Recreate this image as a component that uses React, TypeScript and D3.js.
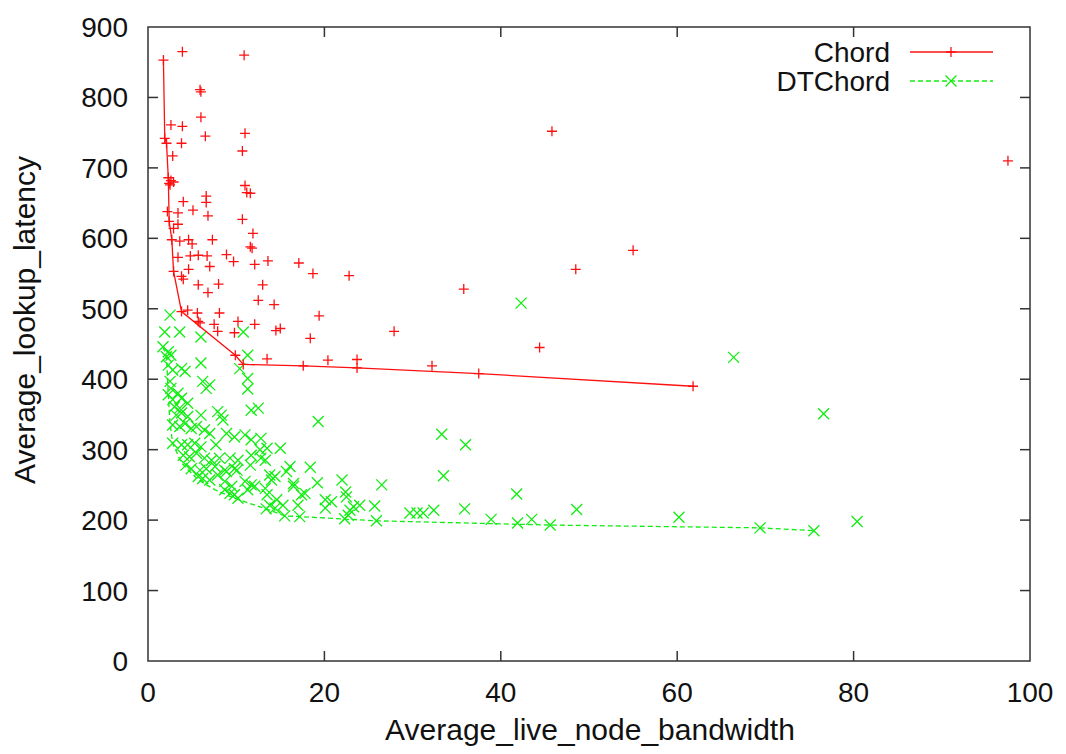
import React, { useEffect, useRef } from "react";
import * as d3 from "d3";

// Chord scatter (bandwidth, latency)
const chordX = [1.75, 3.9, 10.9, 5.9, 6.0, 6.0, 2.6, 3.9, 11.0, 6.5, 1.9, 2.1, 3.8, 10.7, 2.8, 2.3, 2.6, 2.4, 2.9, 2.5, 11.0, 11.2, 11.6, 6.6, 6.6, 4.0, 5.1, 2.2, 3.4, 6.8, 10.7, 2.4, 3.4, 2.9, 11.9, 2.7, 3.6, 4.6, 5.0, 7.3, 11.6, 11.8, 3.4, 4.8, 5.7, 6.7, 8.9, 9.7, 12.1, 13.6, 17.1, 7.0, 4.6, 2.9, 18.7, 22.8, 3.8, 4.0, 5.7, 8.0, 13.0, 6.8, 12.5, 14.3, 19.4, 3.8, 4.5, 5.6, 8.1, 5.9, 7.5, 7.9, 10.2, 12.1, 9.8, 14.5, 15.0, 18.4, 27.9, 9.9, 13.5, 10.8, 17.6, 20.4, 23.7, 23.7, 32.2, 5.7, 37.5, 44.4, 35.8, 48.5, 55.0, 45.8, 97.5, 61.8];
const chordY = [853, 865, 860, 811, 808, 772, 761, 759, 749, 745, 742, 735, 735, 724, 717, 686, 682, 678, 680, 676, 675, 665, 664, 660, 651, 652, 640, 638, 636, 632, 627, 624, 620, 614, 607, 598, 596, 598, 592, 598, 588, 586, 573, 575, 576, 575, 577, 567, 563, 568, 565, 560, 556, 553, 550, 547, 546, 542, 534, 535, 534, 523, 512, 506, 490, 496, 498, 494, 494, 480, 478, 468, 482, 478, 466, 469, 472, 458, 468, 434, 429, 421, 419, 427, 428, 416, 419, 482, 408, 445, 528, 556, 583, 752, 710, 390];

// Chord frontier line
const chordLineX = [1.75, 1.9, 2.1, 2.3, 2.4, 2.7, 2.9, 3.8, 9.9, 10.8, 17.6, 23.7, 37.5, 61.8];
const chordLineY = [853, 742, 735, 686, 624, 598, 553, 496, 434, 421, 419, 416, 408, 390];

// DTChord scatter
const dtX = [2.5, 1.9, 3.6, 6.0, 10.8, 1.7, 2.3, 2.6, 2.1, 11.3, 6.0, 2.3, 2.8, 3.8, 4.2, 10.4, 11.3, 11.3, 6.2, 6.6, 7.0, 2.5, 2.6, 3.4, 2.8, 2.3, 3.8, 4.5, 3.6, 3.0, 7.9, 8.3, 11.7, 12.5, 6.0,
  3.2, 3.8, 4.5, 8.5, 2.8, 3.6, 4.2, 4.9, 5.5, 6.4, 7.0, 8.9, 9.8, 11.0, 11.7, 12.8, 2.8, 3.8, 4.5, 5.3, 6.0, 7.7, 4.0, 4.7, 5.5, 6.4, 7.2, 8.1, 9.3, 10.2, 11.7, 12.8, 4.3, 4.9, 5.9, 6.6, 7.6, 8.7, 9.8, 5.7, 6.2, 7.0, 7.9, 8.7, 11.0, 11.7, 8.7, 9.3, 9.8, 10.2, 11.3, 12.1, 13.4,
  19.3, 12.7, 13.5, 15.0, 13.3, 11.6, 16.1, 18.4, 15.7, 14.4, 14.0, 13.8, 16.5, 19.2, 22.0, 22.4, 26.5, 16.5, 13.3, 13.5, 17.4, 17.8, 20.8, 20.1, 13.8, 14.4, 17.0, 23.3, 24.0, 22.9, 25.7, 15.5, 17.2, 22.3, 22.7, 25.9, 14.6, 15.3, 20.1, 22.5, 29.7, 30.5, 31.2, 32.4, 35.9, 38.9, 41.9, 43.5, 45.6, 48.6, 60.2, 69.4, 75.5, 80.4, 33.3, 36.0, 33.5, 41.8, 42.3, 66.4, 76.6, 9.5, 8.9, 10.1];
const dtY = [491, 467, 467, 460, 467, 446, 439, 434, 432, 434, 423, 420, 413, 415, 411, 415, 401, 386, 397, 387, 392, 397, 387, 380, 371, 378, 373, 366, 359, 361, 354, 349, 356, 359, 349,
  349, 352, 347, 342, 335, 333, 337, 330, 333, 328, 323, 323, 318, 321, 314, 316, 309, 307, 307, 309, 304, 307, 292, 290, 295, 288, 285, 288, 288, 285, 292, 288, 278, 273, 271, 273, 276, 271, 273, 262, 259, 257, 264, 255, 255, 250, 243, 238, 236, 231, 243, 248, 216,
  340, 300, 302, 302, 285, 278, 276, 275, 269, 262, 257, 264, 252, 253, 257, 240, 250, 248, 245, 236, 236, 238, 226, 217, 221, 217, 221, 219, 221, 214, 220, 206, 205, 202, 207, 199, 229, 221, 229, 233, 210, 210, 210, 214, 216, 201, 196, 201, 193, 215, 204, 189, 185, 198, 322, 307, 263, 237, 508, 431, 351, 248, 269, 271];

// DTChord frontier line
const dtLineX = [1.7, 2.1, 2.3, 2.5, 2.8, 3.8, 5.7, 7.6, 9.8, 13.4, 15.5, 17.2, 25.9, 45.6, 69.4, 75.5];
const dtLineY = [446, 432, 378, 337, 309, 281, 257, 243, 231, 216, 206, 205, 199, 193, 189, 185];

const xTicks = [0, 20, 40, 60, 80, 100];
const yTicks = [0, 100, 200, 300, 400, 500, 600, 700, 800, 900];

const RED = "#ff1010";
const GREEN = "#10ee10";
const FONT = "'Liberation Sans', Arial, sans-serif";

function App() {
  const ref = useRef<SVGSVGElement>(null);

  useEffect(() => {
    const width = 1066;
    const height = 754;
    const margin = { top: 27, right: 36, bottom: 93, left: 148 };
    const svg = d3.select(ref.current);
    svg.selectAll("*").remove();

    const x = d3.scaleLinear().domain([0, 100]).range([margin.left, width - margin.right]);
    const y = d3.scaleLinear().domain([0, 900]).range([height - margin.bottom, margin.top]);

    const x0 = x(0), x1 = x(100), y0 = y(0), y1 = y(900);

    // frame
    svg.append("rect")
      .attr("x", x0).attr("y", y1)
      .attr("width", x1 - x0).attr("height", y0 - y1)
      .attr("fill", "none").attr("stroke", "#333").attr("stroke-width", 1.5);

    const tl = 10;
    // mirrored inward ticks
    const tg = svg.append("g").attr("stroke", "#333").attr("stroke-width", 1.5);
    xTicks.slice(1, -1).forEach((t) => {
      tg.append("line").attr("x1", x(t)).attr("x2", x(t)).attr("y1", y0).attr("y2", y0 - tl);
      tg.append("line").attr("x1", x(t)).attr("x2", x(t)).attr("y1", y1).attr("y2", y1 + tl);
    });
    yTicks.slice(1, -1).forEach((t) => {
      tg.append("line").attr("x1", x0).attr("x2", x0 + tl).attr("y1", y(t)).attr("y2", y(t));
      tg.append("line").attr("x1", x1).attr("x2", x1 - tl).attr("y1", y(t)).attr("y2", y(t));
    });

    // tick labels
    svg.append("g").selectAll("text").data(xTicks).enter().append("text")
      .attr("x", (d) => x(d)).attr("y", y0 + 41)
      .attr("text-anchor", "middle")
      .attr("font-family", FONT).attr("font-size", 28).attr("fill", "#111")
      .text((d) => d);
    svg.append("g").selectAll("text").data(yTicks).enter().append("text")
      .attr("x", x0 - 20).attr("y", (d) => y(d) + 10)
      .attr("text-anchor", "end")
      .attr("font-family", FONT).attr("font-size", 28).attr("fill", "#111")
      .text((d) => d);

    // axis titles
    svg.append("text")
      .attr("x", 590).attr("y", 740)
      .attr("text-anchor", "middle")
      .attr("font-family", FONT).attr("font-size", 30).attr("fill", "#111")
      .text("Average_live_node_bandwidth");
    svg.append("text")
      .attr("transform", "translate(35,320) rotate(-90)")
      .attr("text-anchor", "middle")
      .attr("font-family", FONT).attr("font-size", 30).attr("fill", "#111")
      .text("Average_lookup_latency");

    const plus = (g: any, cx: number, cy: number, color: string) => {
      const s = 5;
      g.append("path")
        .attr("d", `M${cx - s},${cy}H${cx + s}M${cx},${cy - s}V${cy + s}`)
        .attr("stroke", color).attr("stroke-width", 1.3).attr("fill", "none");
    };
    const cross = (g: any, cx: number, cy: number, color: string) => {
      const s = 5.5;
      g.append("path")
        .attr("d", `M${cx - s},${cy - s}L${cx + s},${cy + s}M${cx - s},${cy + s}L${cx + s},${cy - s}`)
        .attr("stroke", color).attr("stroke-width", 1.3).attr("fill", "none");
    };

    const line = d3.line<[number, number]>().x((d) => x(d[0])).y((d) => y(d[1]));

    // DTChord
    const dtG = svg.append("g");
    dtX.forEach((v, i) => cross(dtG, x(v), y(dtY[i]), GREEN));
    dtG.append("path")
      .attr("d", line(dtLineX.map((v, i) => [v, dtLineY[i]] as [number, number])))
      .attr("fill", "none").attr("stroke", GREEN).attr("stroke-width", 1.3)
      .attr("stroke-dasharray", "5,3");

    // Chord
    const chG = svg.append("g");
    chordX.forEach((v, i) => plus(chG, x(v), y(chordY[i]), RED));
    chG.append("path")
      .attr("d", line(chordLineX.map((v, i) => [v, chordLineY[i]] as [number, number])))
      .attr("fill", "none").attr("stroke", RED).attr("stroke-width", 1.3);

    // legend
    const lg = svg.append("g");
    const entries = [
      { name: "Chord", color: RED, dash: null, mark: plus, cy: 52 },
      { name: "DTChord", color: GREEN, dash: "5,3", mark: cross, cy: 81 },
    ];
    entries.forEach((e) => {
      lg.append("text")
        .attr("x", 890).attr("y", e.cy + 10)
        .attr("text-anchor", "end")
        .attr("font-family", FONT).attr("font-size", 28).attr("fill", "#111")
        .text(e.name);
      lg.append("line")
        .attr("x1", 910).attr("x2", 993).attr("y1", e.cy).attr("y2", e.cy)
        .attr("stroke", e.color).attr("stroke-width", 1.3)
        .attr("stroke-dasharray", e.dash);
      e.mark(lg, 951, e.cy, e.color);
    });
  }, []);

  return (
    <svg
      ref={ref}
      width={1066}
      height={754}
      style={{ position: "absolute", left: 0, top: 0, background: "#fff" }}
    />
  );
}

export default App;
